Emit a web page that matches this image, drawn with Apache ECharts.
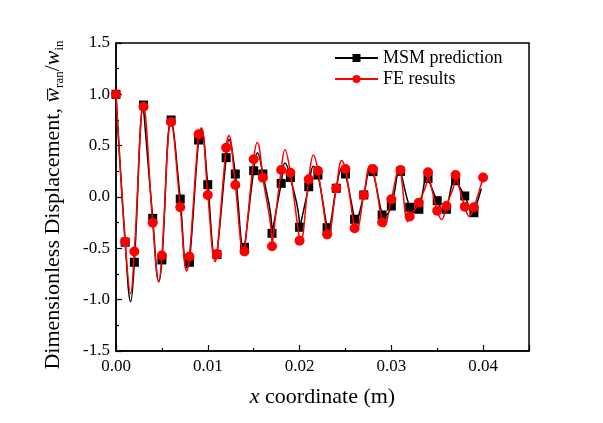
<!DOCTYPE html>
<html><head><meta charset="utf-8">
<script src="https://cdn.jsdelivr.net/npm/echarts@6/dist/echarts.min.js"></script>
<style>html,body{margin:0;padding:0;background:#fff}#c{width:603px;height:423px}</style>
</head><body><div id="c"></div>
<script>
// marker x positions (m)
const msmX = [0,0.001,0.002,0.003,0.004,0.005,0.006,0.007,0.008,0.009,0.010,0.011,0.012,0.013,0.014,0.015,0.016,0.017,0.018,0.019,0.020,0.021,0.022,0.023,0.024,0.025,0.026,0.027,0.028,0.029,0.030,0.031,0.032,0.033,0.034,0.035,0.036,0.037,0.038,0.039];
const msmY = [1.0,-0.44,-0.636,0.896,-0.208,-0.613,0.75,-0.02,-0.636,0.555,0.12,-0.56,0.383,0.224,-0.49,0.256,0.224,-0.354,0.133,0.19,-0.295,0.10,0.214,-0.299,0.085,0.224,-0.217,0.02,0.247,-0.175,-0.088,0.25,-0.10,-0.12,0.18,-0.036,-0.12,0.159,0.01,-0.153];
const feX = [0,0.001,0.002,0.003,0.004,0.005,0.006,0.007,0.008,0.009,0.010,0.011,0.012,0.013,0.014,0.015,0.016,0.017,0.018,0.019,0.020,0.021,0.022,0.023,0.024,0.025,0.026,0.027,0.028,0.029,0.030,0.031,0.032,0.033,0.034,0.035,0.036,0.037,0.038,0.039,0.040];
const feY = [1.0,-0.435,-0.53,0.88,-0.25,-0.57,0.73,-0.10,-0.58,0.61,0.02,-0.555,0.48,0.117,-0.53,0.367,0.188,-0.48,0.263,0.237,-0.425,0.172,0.256,-0.364,0.085,0.273,-0.305,0.02,0.273,-0.246,-0.023,0.263,-0.19,-0.055,0.24,-0.133,-0.088,0.214,-0.094,-0.10,0.19];
// curve extrema (line only, no marker)
const msmCurve = [[0.00297,0.90],[0.0093,0.655],[0.0123,0.56],[0.0154,0.43],[0.0184,0.33],[0.0215,0.30],[0.0246,0.28],[0.0277,0.28],[0.0309,0.26],[0.0339,0.20],[0.0369,0.17],
  [0.0016,-1.02],[0.00467,-0.825],[0.0077,-0.69],[0.0108,-0.60],[0.0139,-0.51],[0.0170,-0.36],[0.0200,-0.31],[0.0231,-0.31],[0.0261,-0.23],[0.0292,-0.19],[0.0325,-0.15],[0.0358,-0.15],[0.0389,-0.16],[0.0398,0.08]];
const feCurve = [[0.0093,0.675],[0.0123,0.60],[0.0154,0.53],[0.0184,0.46],[0.0215,0.41],[0.0246,0.355],[0.0277,0.31],[0.0309,0.27],[0.0340,0.25],[0.0370,0.23],
  [0.0016,-0.94],[0.00467,-0.825],[0.0077,-0.72],[0.0108,-0.63],[0.0139,-0.55],[0.0170,-0.49],[0.0201,-0.44],[0.0231,-0.38],[0.0262,-0.32],[0.0292,-0.29],[0.0318,-0.24],[0.0355,-0.22],[0.0385,-0.19]];
const seriesNames = ['MSM prediction','FE results'];

function build(xs, ys, curve){
  const pts = xs.map((x,i)=>({value:[x,ys[i]]}));
  curve.forEach(p=>pts.push({value:[p[0],p[1]], symbol:'none'}));
  pts.sort((a,b)=>a.value[0]-b.value[0]);
  return pts;
}
const FONT = 'Liberation Serif';
const chart = echarts.init(document.getElementById('c'));
chart.setOption({
  backgroundColor:'#fff',
  animation:false,
  grid:{left:116,right:74,top:43,bottom:72,show:true,borderColor:'#000',borderWidth:1.5,backgroundColor:'transparent'},
  legend:{orient:'vertical',left:329,top:44,itemWidth:43,itemHeight:10,itemGap:3,
    textStyle:{fontFamily:FONT,fontSize:18,color:'#000'},data:seriesNames},
  xAxis:{type:'value',min:0,max:0.045,interval:0.01,
    name:'{i|x} coordinate (m)',nameLocation:'middle',nameGap:35,
    nameTextStyle:{fontFamily:FONT,fontSize:22,color:'#000',rich:{i:{fontFamily:FONT,fontSize:22,fontStyle:'italic',color:'#000'}}},
    axisLine:{show:true,onZero:false,lineStyle:{color:'#000',width:1.5}},
    axisTick:{inside:true,length:6,lineStyle:{color:'#000',width:1.2}},
    minorTick:{show:true,splitNumber:2,length:3,lineStyle:{color:'#000',width:1.2}},
    splitLine:{show:false},
    axisLabel:{fontFamily:FONT,fontSize:17,color:'#000',margin:7,showMaxLabel:false,formatter:v=>v.toFixed(2)}},
  yAxis:{type:'value',min:-1.5,max:1.5,interval:0.5,
    name:'{a|Dimensionless Displacement, }{i|w\u0305}{s|ran}{a|/}{i|w}{s|in}',nameLocation:'middle',nameGap:50,nameRotate:90,
    nameTextStyle:{fontFamily:FONT,fontSize:22,color:'#000',padding:[0,16,0,0],
      rich:{a:{fontFamily:FONT,fontSize:22,color:'#000',lineHeight:22},
            i:{fontFamily:FONT,fontSize:22,fontStyle:'italic',color:'#000',lineHeight:22},
            s:{fontFamily:FONT,fontSize:13,color:'#000',lineHeight:26,verticalAlign:'bottom'}}},
    axisLine:{show:true,onZero:false,lineStyle:{color:'#000',width:1.5}},
    axisTick:{inside:true,length:6,lineStyle:{color:'#000',width:1.2}},
    minorTick:{show:true,splitNumber:2,length:3,lineStyle:{color:'#000',width:1.2}},
    splitLine:{show:false},
    axisLabel:{fontFamily:FONT,fontSize:17,color:'#000',margin:6,formatter:v=>v.toFixed(1)}},
  series:[
    {name:seriesNames[0],type:'line',smooth:0.4,data:build(msmX,msmY,msmCurve),
     symbol:'rect',symbolSize:9,showSymbol:true,showAllSymbol:true,
     lineStyle:{color:'#000',width:1.5},itemStyle:{color:'#000'},z:2},
    {name:seriesNames[1],type:'line',smooth:0.4,data:build(feX,feY,feCurve),
     symbol:'circle',symbolSize:10,showSymbol:true,showAllSymbol:true,
     lineStyle:{color:'#ff0000',width:1.5},itemStyle:{color:'#ff0000'},z:3}
  ]
});
</script></body></html>
